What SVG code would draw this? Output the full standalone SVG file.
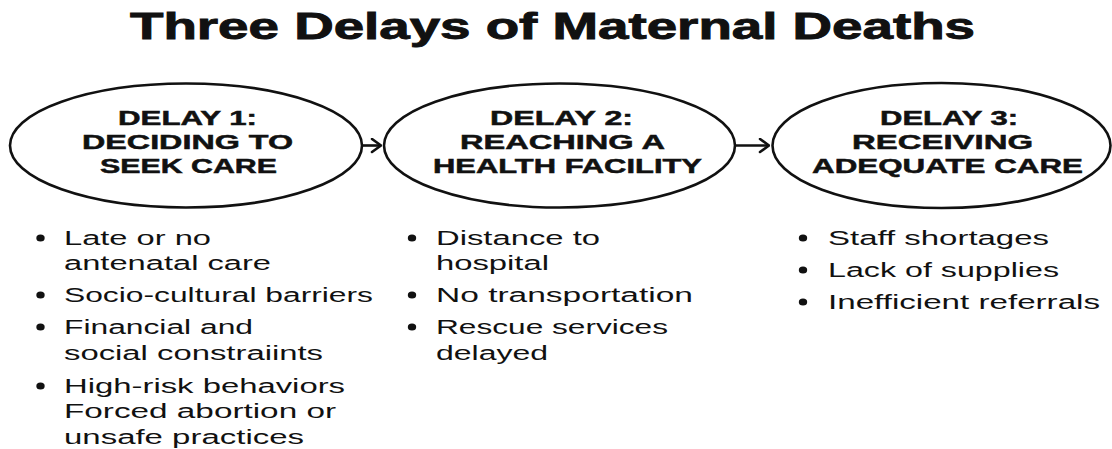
<svg xmlns="http://www.w3.org/2000/svg" width="1112" height="449" viewBox="0 0 1112 449">
  <defs>
    <style>
      .title { font-family: "Liberation Sans", Arial, sans-serif; font-weight: bold; font-size: 37px; fill: #111; stroke: #111; stroke-width: 0.9; }
      .stage { fill: #fff; stroke: #111; stroke-width: 2.6; }
      .stage-label { font-family: "Liberation Sans", Arial, sans-serif; font-weight: bold; font-size: 20.5px; fill: #111; stroke: #111; stroke-width: 0.5; text-anchor: middle; }
      .item { font-family: "Liberation Sans", Arial, sans-serif; font-size: 20px; fill: #111; }
      .dot { fill: #111; }
      .link { fill: none; stroke: #111; stroke-width: 2.6; }
    </style>
    <marker id="chevron" viewBox="0 0 12 16" refX="11" refY="8" markerWidth="12" markerHeight="16" markerUnits="userSpaceOnUse" orient="auto">
      <path d="M2,1.5 L11,8 L2,14.5" fill="none" stroke="#111" stroke-width="2.6" stroke-linecap="round" stroke-linejoin="round"/>
    </marker>
  </defs>

  <rect width="1112" height="449" fill="#fff"/>

  <text class="title" x="130" y="39" textLength="845" lengthAdjust="spacingAndGlyphs">Three Delays of Maternal Deaths</text>

  <!-- flow between the three stages -->
  <g id="connectors">
    <line class="link" x1="362" y1="145.5" x2="381" y2="145.5" marker-end="url(#chevron)"/>
    <line class="link" x1="736" y1="145.5" x2="769" y2="145.5" marker-end="url(#chevron)"/>
  </g>

  <g id="delay1">
    <ellipse class="stage" cx="186" cy="145.5" rx="176" ry="62"/>
    <text class="stage-label" x="187.5" y="125" textLength="139" lengthAdjust="spacingAndGlyphs">DELAY 1:</text>
    <text class="stage-label" x="187.5" y="149" textLength="211" lengthAdjust="spacingAndGlyphs">DECIDING TO</text>
    <text class="stage-label" x="188.5" y="173" textLength="177" lengthAdjust="spacingAndGlyphs">SEEK CARE</text>
  </g>

  <g id="delay2">
    <ellipse class="stage" cx="559.5" cy="145.5" rx="175.5" ry="62"/>
    <text class="stage-label" x="561.5" y="125" textLength="143" lengthAdjust="spacingAndGlyphs">DELAY 2:</text>
    <text class="stage-label" x="562.5" y="149" textLength="205" lengthAdjust="spacingAndGlyphs">REACHING A</text>
    <text class="stage-label" x="567.5" y="173" textLength="269" lengthAdjust="spacingAndGlyphs">HEALTH FACILITY</text>
  </g>

  <g id="delay3">
    <ellipse class="stage" cx="941.5" cy="145.5" rx="169" ry="62.5"/>
    <text class="stage-label" x="949" y="125" textLength="138" lengthAdjust="spacingAndGlyphs">DELAY 3:</text>
    <text class="stage-label" x="942.5" y="149" textLength="181" lengthAdjust="spacingAndGlyphs">RECEIVING</text>
    <text class="stage-label" x="947.5" y="173" textLength="271" lengthAdjust="spacingAndGlyphs">ADEQUATE CARE</text>
  </g>

  <g id="delay1-factors">
    <ellipse class="dot" cx="40.5" cy="238" rx="4.2" ry="3.6"/>
    <text class="item" x="64" y="245" textLength="147" lengthAdjust="spacingAndGlyphs">Late or no</text>
    <text class="item" x="64" y="270" textLength="207" lengthAdjust="spacingAndGlyphs">antenatal care</text>
    <ellipse class="dot" cx="40.5" cy="295" rx="4.2" ry="3.6"/>
    <text class="item" x="64" y="302" textLength="309" lengthAdjust="spacingAndGlyphs">Socio-cultural barriers</text>
    <ellipse class="dot" cx="40.5" cy="327" rx="4.2" ry="3.6"/>
    <text class="item" x="64" y="334" textLength="189" lengthAdjust="spacingAndGlyphs">Financial and</text>
    <text class="item" x="64" y="360" textLength="259" lengthAdjust="spacingAndGlyphs">social constraiints</text>
    <ellipse class="dot" cx="40.5" cy="386" rx="4.2" ry="3.6"/>
    <text class="item" x="64" y="393" textLength="281" lengthAdjust="spacingAndGlyphs">High-risk behaviors</text>
    <text class="item" x="64" y="418" textLength="272" lengthAdjust="spacingAndGlyphs">Forced abortion or</text>
    <text class="item" x="64" y="444" textLength="240" lengthAdjust="spacingAndGlyphs">unsafe practices</text>
  </g>

  <g id="delay2-factors">
    <ellipse class="dot" cx="412" cy="238" rx="4.2" ry="3.6"/>
    <text class="item" x="436" y="245" textLength="164" lengthAdjust="spacingAndGlyphs">Distance to</text>
    <text class="item" x="436" y="270" textLength="113" lengthAdjust="spacingAndGlyphs">hospital</text>
    <ellipse class="dot" cx="412" cy="295" rx="4.2" ry="3.6"/>
    <text class="item" x="436" y="302" textLength="257" lengthAdjust="spacingAndGlyphs">No transportation</text>
    <ellipse class="dot" cx="412" cy="327" rx="4.2" ry="3.6"/>
    <text class="item" x="436" y="334" textLength="232" lengthAdjust="spacingAndGlyphs">Rescue services</text>
    <text class="item" x="436" y="360" textLength="112" lengthAdjust="spacingAndGlyphs">delayed</text>
  </g>

  <g id="delay3-factors">
    <ellipse class="dot" cx="803" cy="238" rx="4.2" ry="3.6"/>
    <text class="item" x="828" y="245" textLength="221" lengthAdjust="spacingAndGlyphs">Staff shortages</text>
    <ellipse class="dot" cx="803" cy="270" rx="4.2" ry="3.6"/>
    <text class="item" x="828" y="277" textLength="231" lengthAdjust="spacingAndGlyphs">Lack of supplies</text>
    <ellipse class="dot" cx="803" cy="302" rx="4.2" ry="3.6"/>
    <text class="item" x="828" y="309" textLength="272" lengthAdjust="spacingAndGlyphs">Inefficient referrals</text>
  </g>
</svg>
